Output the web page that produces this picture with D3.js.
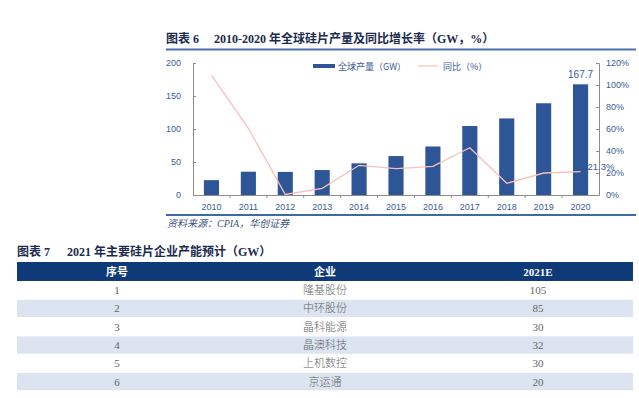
<!DOCTYPE html>
<html>
<head>
<meta charset="utf-8">
<script src="https://cdn.jsdelivr.net/npm/d3@7"></script>
<style>
  body { margin: 0; background: #fff; }
  svg { display: block; }
</style>
</head>
<body>
<div id="chart"></div>
<script>
// chart data
const years = ['2010', '2011', '2012', '2013', '2014', '2015', '2016', '2017', '2018', '2019', '2020'];
const output = [22.5, 35.3, 35.0, 37.8, 48.0, 59.0, 73.5, 104.5, 116.0, 139.0, 167.7];
const growth = [109, 60.6, 0.5, 6.0, 27.0, 24.0, 26.0, 43.0, 10.6, 20.0, 21.3];
const leftTicks = [0, 50, 100, 150, 200];
const rightTicks = [0, 20, 40, 60, 80, 100, 120];

// table data
const tableHead = ['序号', '企业', '2021E'];
const rowNo = ['1', '2', '3', '4', '5', '6'];
const rowName = ['隆基股份', '中环股份', '晶科能源', '晶澳科技', '上机数控', '京运通'];
const rowCap = ['105', '85', '30', '32', '30', '20'];

const serif = '"Liberation Serif", "Noto Sans CJK SC", serif';
const sans = '"Liberation Sans", Arial, sans-serif';
const cjk = '"Noto Sans CJK SC", sans-serif';
const blueText = '#3b5b98';

const svg = d3.select('#chart')
              .append('svg')
              .attr('width', 639)
              .attr('height', 398);

// ---- figure 6 title ----
svg.append('text')
    .attr('x', 166).attr('y', 43)
    .attr('font-family', serif).attr('font-size', 12).attr('font-weight', 'bold')
    .attr('fill', '#1b2a4e')
    .text('图表 6');
svg.append('text')
    .attr('x', 214).attr('y', 43)
    .attr('font-family', serif).attr('font-size', 12).attr('font-weight', 'bold')
    .attr('fill', '#1b2a4e')
    .text('2010-2020 年全球硅片产量及同比增长率（GW，%）');
svg.append('line')
    .attr('x1', 166).attr('x2', 636).attr('y1', 49.5).attr('y2', 49.5)
    .attr('stroke', '#4a70ad').attr('stroke-width', 2);

// ---- chart ----
const plot = {left: 193, right: 599, top: 63, bottom: 195};

const x = d3.scaleBand()
            .domain(years)
            .range([plot.left, plot.right])
            .padding(0);

const yLeft = d3.scaleLinear()
                .domain([0, 200])
                .range([plot.bottom, plot.top]);

const yRight = d3.scaleLinear()
                 .domain([0, 120])
                 .range([plot.bottom, plot.top]);

const barW = x.bandwidth() * 0.41;

svg.selectAll('rect.bar')
    .data(years)
    .enter()
    .append('rect')
    .attr('class', 'bar')
    .attr('x', (d) => x(d) + (x.bandwidth() - barW) / 2)
    .attr('y', (d, i) => yLeft(output[i]))
    .attr('width', barW)
    .attr('height', (d, i) => plot.bottom - yLeft(output[i]))
    .attr('fill', '#2e5596');

const line = d3.line()
               .x((d, i) => x(years[i]) + x.bandwidth() / 2)
               .y((d) => yRight(d));

svg.append('path')
    .datum(growth)
    .attr('d', line)
    .attr('fill', 'none')
    .attr('stroke', '#f7c1ba')
    .attr('stroke-width', 1.3);

// axes
const leftAxis = svg.append('g')
    .attr('transform', `translate(${plot.left},0)`)
    .call(d3.axisLeft(yLeft).tickValues(leftTicks).tickSize(-3).tickPadding(12));

const rightAxis = svg.append('g')
    .attr('transform', `translate(${plot.right},0)`)
    .call(d3.axisRight(yRight).tickValues(rightTicks).tickSize(-3).tickPadding(7)
            .tickFormat((d) => d + '%'));

const bottomAxis = svg.append('g')
    .attr('transform', `translate(0,${plot.bottom})`)
    .call(d3.axisBottom(x).tickSize(0).tickPadding(9));

[leftAxis, rightAxis, bottomAxis].forEach((g) => {
    g.selectAll('path.domain').attr('stroke', '#8c8c8c').attr('stroke-width', 1);
    g.selectAll('line').attr('stroke', '#8c8c8c');
    g.selectAll('text')
        .attr('font-family', sans)
        .attr('font-size', 9)
        .attr('fill', blueText);
});
bottomAxis.select('path.domain').attr('d', `M${plot.left},0.5H${plot.right}`);

// category boundary ticks on the x axis
svg.selectAll('line.xtick')
    .data(years.slice(1))
    .enter()
    .append('line')
    .attr('class', 'xtick')
    .attr('x1', (d) => x(d)).attr('x2', (d) => x(d))
    .attr('y1', plot.bottom).attr('y2', plot.bottom + 3)
    .attr('stroke', '#8c8c8c');

// data labels
svg.append('text')
    .attr('x', x(years[10]) + x.bandwidth() / 2)
    .attr('y', yLeft(output[10]) - 6)
    .attr('text-anchor', 'middle')
    .attr('font-family', sans).attr('font-size', 10)
    .attr('fill', blueText)
    .text(output[10].toFixed(1));

// sits just right of the last point, like the reference (it leans on the 20% tick)
svg.append('text')
    .attr('x', x(years[10]) + x.bandwidth() / 2 + 7)
    .attr('y', yRight(growth[10]) - 2)
    .attr('font-family', sans).attr('font-size', 9.5)
    .attr('fill', blueText)
    .text(growth[10].toFixed(1) + '%');

// legend
svg.append('rect')
    .attr('x', 313).attr('y', 64).attr('width', 22).attr('height', 4)
    .attr('fill', '#2e5596');
svg.append('text')
    .attr('x', 338).attr('y', 69.5)
    .attr('font-family', cjk).attr('font-size', 9)
    .attr('fill', blueText)
    .text('全球产量（GW）');
svg.append('line')
    .attr('x1', 418).attr('x2', 438).attr('y1', 66).attr('y2', 66)
    .attr('stroke', '#f7c1ba').attr('stroke-width', 1.3);
svg.append('text')
    .attr('x', 443).attr('y', 69.5)
    .attr('font-family', cjk).attr('font-size', 9)
    .attr('fill', blueText)
    .text('同比（%）');

svg.append('line')
    .attr('x1', 166).attr('x2', 636).attr('y1', 215).attr('y2', 215)
    .attr('stroke', '#3d6aa6').attr('stroke-width', 1.8);

svg.append('text')
    .attr('x', 167).attr('y', 227)
    .attr('font-family', serif).attr('font-size', 10).attr('font-style', 'italic')
    .attr('fill', '#3d5580')
    .text('资料来源：CPIA，华创证券');

// ---- figure 7 title and table ----
svg.append('text')
    .attr('x', 17).attr('y', 256)
    .attr('font-family', serif).attr('font-size', 12).attr('font-weight', 'bold')
    .attr('fill', '#1b2a4e')
    .text('图表 7');
svg.append('text')
    .attr('x', 67).attr('y', 256)
    .attr('font-family', serif).attr('font-size', 12).attr('font-weight', 'bold')
    .attr('fill', '#1b2a4e')
    .text('2021 年主要硅片企业产能预计（GW）');

const colX = [117, 325, 538];
const headTop = 262, headH = 19, rowH = 18.3;

svg.append('rect')
    .attr('x', 17).attr('y', headTop).attr('width', 616).attr('height', headH)
    .attr('fill', '#0e3a78');

svg.selectAll('text.head')
    .data(tableHead)
    .enter()
    .append('text')
    .attr('class', 'head')
    .attr('x', (d, i) => colX[i])
    .attr('y', headTop + 13.5)
    .attr('text-anchor', 'middle')
    .attr('font-family', serif).attr('font-size', 11).attr('font-weight', 'bold')
    .attr('fill', '#fff')
    .text((d) => d);

const rows = svg.selectAll('g.row')
    .data(rowNo)
    .enter()
    .append('g')
    .attr('class', 'row')
    .attr('transform', (d, i) => `translate(0,${headTop + headH + i * rowH})`);

rows.append('rect')
    .attr('x', 17).attr('y', 0.5).attr('width', 616).attr('height', rowH - 1)
    .attr('fill', (d, i) => i % 2 === 1 ? '#dbe4f0' : '#fff');

rows.append('text')
    .attr('x', colX[0]).attr('y', 13)
    .attr('text-anchor', 'middle')
    .attr('font-family', serif).attr('font-size', 11)
    .attr('fill', '#666')
    .text((d) => d);

rows.append('text')
    .attr('x', colX[1]).attr('y', 13)
    .attr('text-anchor', 'middle')
    .attr('font-family', serif).attr('font-size', 11).attr('font-weight', 300)
    .attr('fill', '#666')
    .text((d, i) => rowName[i]);

rows.append('text')
    .attr('x', colX[2]).attr('y', 13)
    .attr('text-anchor', 'middle')
    .attr('font-family', serif).attr('font-size', 11)
    .attr('fill', '#666')
    .text((d, i) => rowCap[i]);
</script>
</body>
</html>
